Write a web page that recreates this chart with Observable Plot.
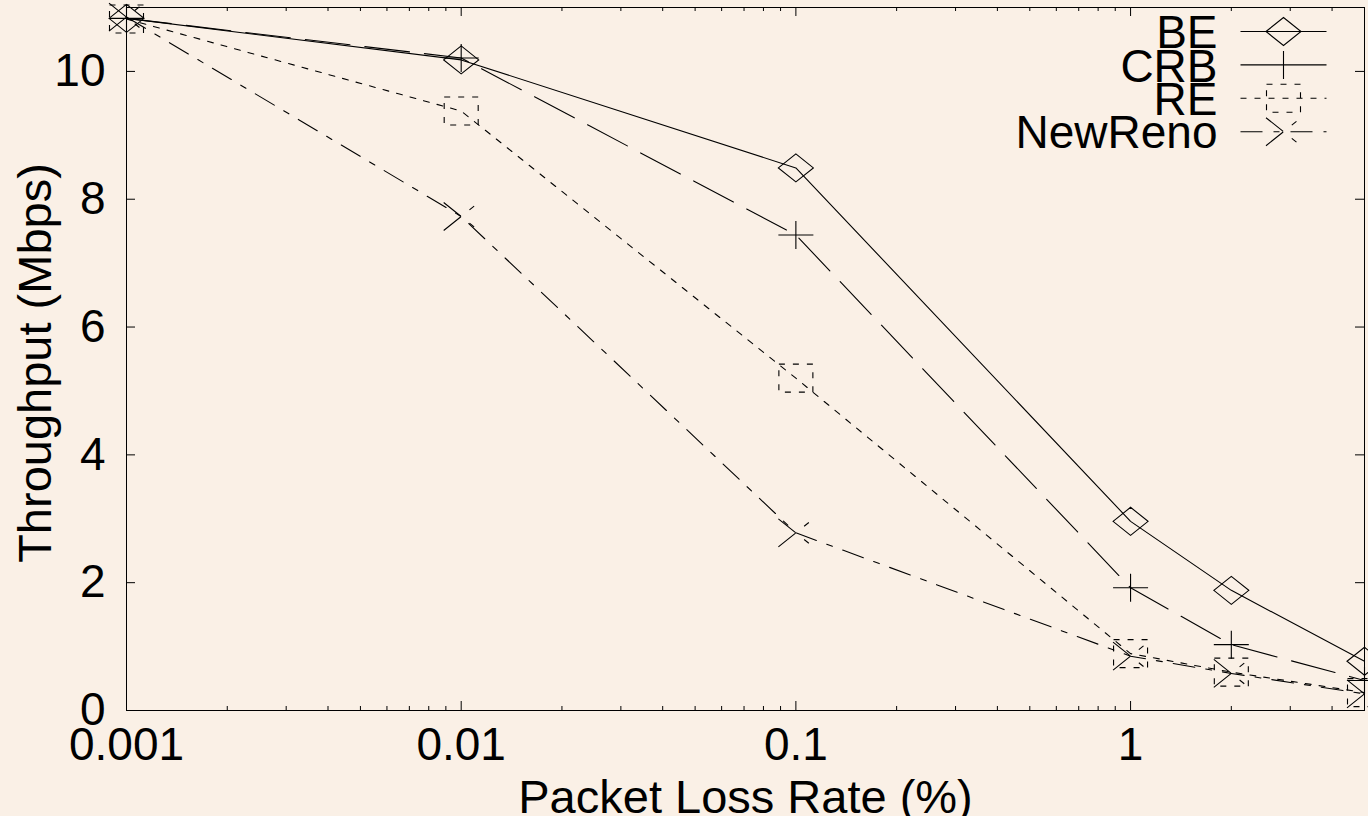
<!DOCTYPE html>
<html>
<head>
<meta charset="utf-8">
<script src="https://cdn.jsdelivr.net/npm/d3@7"></script>
<script src="https://cdn.jsdelivr.net/npm/@observablehq/plot@0.6"></script>
<style>
  html, body { margin: 0; padding: 0; background: #faf0e6; }
  #chart svg { display: block; }
</style>
</head>
<body>
<div id="chart"></div>
<script>
// Packet loss rates (%) at which throughput was measured
const lossRates = [0.001, 0.01, 0.1, 1, 2, 5];

// Throughput (Mbps) per scheme
const beThroughput      = [10.83, 10.18, 8.49, 2.96, 1.88, 0.77];
const crbThroughput     = [10.83, 10.21, 7.44, 1.92, 1.03, 0.47];
const reThroughput      = [10.82, 9.38, 5.20, 0.89, 0.60, 0.28];
const newRenoThroughput = [10.85, 7.73, 2.78, 0.85, 0.58, 0.26];

const seriesNames = ["BE", "CRB", "RE", "NewReno"];

// Axis ticks and titles
const xTickValues = [0.001, 0.01, 0.1, 1];
const xTickLabels = ["0.001", "0.01", "0.1", "1"];
const yTickValues = [0, 2, 4, 6, 8, 10];
const yTickLabels = ["0", "2", "4", "6", "8", "10"];
const xTitle = "Packet Loss Rate (%)";
const yTitle = "Throughput (Mbps)";

// Long-format table built from the arrays above
const seriesValues = [beThroughput, crbThroughput, reThroughput, newRenoThroughput];
const rows = seriesNames.flatMap((name, s) =>
  lossRates.map((rate, i) => ({series: name, rate, value: seriesValues[s][i]})));

// ---- layout ----
const width = 1368, height = 816;
const margin = {top: 7, right: 4, bottom: 106, left: 126};
const innerW = width - margin.left - margin.right;
const innerH = height - margin.top - margin.bottom;
const majorTick = 9, minorTick = 4;

// ---- gnuplot-like point shapes (wider than tall) ----
const HW = 17.5, HH = 14;
const shapes = {
  diamond(c) { c.moveTo(-HW, 0); c.lineTo(0, -HH); c.lineTo(HW, 0); c.lineTo(0, HH); c.closePath(); },
  plus(c)    { c.moveTo(-HW, 0); c.lineTo(HW, 0); c.moveTo(0, -HH); c.lineTo(0, HH); },
  square(c)  { c.moveTo(-HW + 0.5, -HH); c.lineTo(HW - 0.5, -HH); c.lineTo(HW - 0.5, HH); c.lineTo(-HW + 0.5, HH); c.closePath(); },
  times(c)   { c.moveTo(-HW, -HH); c.lineTo(HW, HH); c.moveTo(-HW, HH); c.lineTo(HW, -HH); }
};
const symbolOf = (draw) => ({draw(context) { draw(context); }});
const legendSymbolOf = (draw) => ({draw(context) { context.moveTo(-43, 0); context.lineTo(43, 0); draw(context); }});

const styles = {
  BE:      {shape: shapes.diamond, dash: null},
  CRB:     {shape: shapes.plus,    dash: "45,15"},
  RE:      {shape: shapes.square,  dash: "6,8"},
  NewReno: {shape: shapes.times,   dash: "22,11,6,11"}
};

// minor log ticks between the labelled decades
const xScaleHelper = d3.scaleLog().domain([0.001, 5]);
const minorX = xScaleHelper.ticks().filter(v => !xTickValues.includes(v));

const seriesMarks = seriesNames.flatMap(name => {
  const data = rows.filter(r => r.series === name);
  const st = styles[name];
  return [
    Plot.line(data, {x: "rate", y: "value", stroke: "black", strokeWidth: 1.1,
      strokeDasharray: st.dash, curve: "linear"}),
    Plot.dot(data, {x: "rate", y: "value", symbol: symbolOf(st.shape), fill: "none",
      stroke: "black", strokeWidth: 1.1, strokeDasharray: st.dash})
  ];
});

const legendMarks = seriesNames.flatMap((name, i) => {
  const st = styles[name];
  const rowY = 24 + i * 33.4;
  return [
    Plot.text([name], {frameAnchor: "top-right", text: d => d, textAnchor: "end",
      lineAnchor: "middle", dx: -147, dy: rowY + 2, fill: "black"}),
    Plot.dot([name], {frameAnchor: "top-right", dx: -81, dy: rowY,
      symbol: legendSymbolOf(st.shape), fill: "none", stroke: "black",
      strokeWidth: 1.1, strokeDasharray: st.dash})
  ];
});

const chart = Plot.plot({
  width, height,
  marginTop: margin.top, marginRight: margin.right,
  marginBottom: margin.bottom, marginLeft: margin.left,
  style: {
    background: "#faf0e6",
    fontFamily: "'Liberation Sans', Arial, Helvetica, sans-serif",
    fontSize: "46px",
    color: "black"
  },
  x: {type: "log", domain: [0.001, 5]},
  y: {domain: [0, 11]},
  marks: [
    // inward ticks on all four sides
    Plot.tickY(yTickValues, {y: d => d, insetRight: innerW - majorTick, stroke: "black"}),
    Plot.tickY(yTickValues, {y: d => d, insetLeft: innerW - majorTick, stroke: "black"}),
    Plot.tickX(xTickValues, {x: d => d, insetTop: innerH - majorTick, stroke: "black"}),
    Plot.tickX(xTickValues, {x: d => d, insetBottom: innerH - majorTick, stroke: "black"}),
    Plot.tickX(minorX, {x: d => d, insetTop: innerH - minorTick, stroke: "black"}),
    Plot.tickX(minorX, {x: d => d, insetBottom: innerH - minorTick, stroke: "black"}),
    Plot.frame({stroke: "black", strokeWidth: 1}),
    Plot.axisX(xTickValues, {tickSize: 0, tickPadding: 17, label: null,
      tickFormat: d => xTickLabels[xTickValues.indexOf(d)]}),
    Plot.axisY(yTickValues, {tickSize: 0, tickPadding: 21, label: null,
      tickFormat: d => yTickLabels[yTickValues.indexOf(d)]}),
    Plot.text([xTitle], {frameAnchor: "bottom", text: d => d, textAnchor: "middle",
      lineAnchor: "bottom", dy: 102, fill: "black", fontSize: 47}),
    Plot.text([yTitle], {frameAnchor: "left", text: d => d, rotate: -90,
      textAnchor: "middle", lineAnchor: "bottom", dx: -76, dy: 4, fill: "black", fontSize: 47}),
    ...seriesMarks,
    ...legendMarks
  ]
});

document.getElementById("chart").appendChild(chart);
</script>
</body>
</html>
